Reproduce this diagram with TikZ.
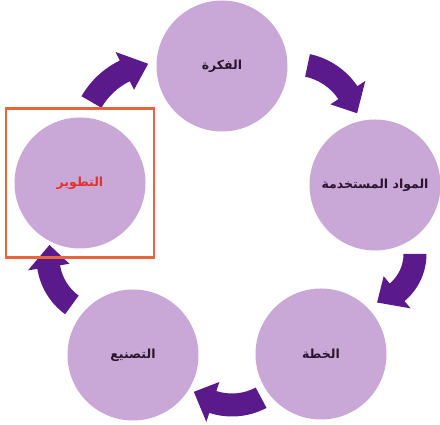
\documentclass[tikz,border=0pt]{standalone}
\usepackage{fontspec}
\newfontfamily\arabicfont[Script=Arabic]{DejaVu Sans}
\TeXXeTstate=1
\definecolor{bubblefill}{HTML}{C9A8D7}
\definecolor{arrowcol}{HTML}{5A1A8C}
\definecolor{boxcol}{HTML}{E8643C}
\definecolor{redtext}{HTML}{E5302E}
\definecolor{darktext}{HTML}{2A1530}
\tikzset{
  bubble/.style={circle, fill=bubblefill, minimum size=131pt, inner sep=0pt,
    font=\arabicfont\bfseries\fontsize{12.5}{14}\selectfont, text=darktext},
  cyclearrow/.style={fill=arrowcol},
  hilite/.style={draw=boxcol, line width=2.4pt}
}
% #1 centre x, #2 centre y, #3 radius, #4 tail angle, #5 head-base angle, #6 tip angle
\newcommand{\curvedarrow}[6]{%
  \pgfmathsetmacro{\rout}{#3+11.5}\pgfmathsetmacro{\rin}{#3-11.5}%
  \pgfmathsetmacro{\hout}{#3+21}\pgfmathsetmacro{\hin}{#3-21}%
  \fill[cyclearrow, shift={(#1pt,#2pt)}]
    (#4:\rout pt) arc[start angle=#4, end angle=#5, radius=\rout pt]
    -- (#5:\hout pt) -- (#6:#3pt) -- (#5:\hin pt) -- (#5:\rin pt)
    arc[start angle=#5, end angle=#4, radius=\rin pt] -- cycle;}
\begin{document}
\begin{tikzpicture}[x=1pt,y=1pt]
\useasboundingbox (0,0) rectangle (440,425);
\fill[white] (0,0) rectangle (440,425);
\node[bubble] (idea) at (222,359) {\beginR الفكرة\endR};
\node[bubble] (materials) at (375,240) {\beginR المواد المستخدمة\endR};
\node[bubble] (plan) at (321,71) {\beginR الخطة\endR};
\node[bubble] (make) at (133,70) {\beginR التصنيع\endR};
\node[bubble, text=redtext] (develop) at (80,242) {\beginR التطوير\endR};
\curvedarrow{159}{284}{78}{150}{116}{98}
\curvedarrow{294}{296}{65}{78}{34}{14}
\curvedarrow{365}{171}{50}{0}{-50}{-76}
\curvedarrow{232}{82}{62}{-62}{-108}{-128}
\curvedarrow{106}{167}{58}{234}{189}{167}
\node[hilite, minimum width=148pt, minimum height=149pt, inner sep=0pt] (box) at (develop) {};
\end{tikzpicture}
\end{document}
